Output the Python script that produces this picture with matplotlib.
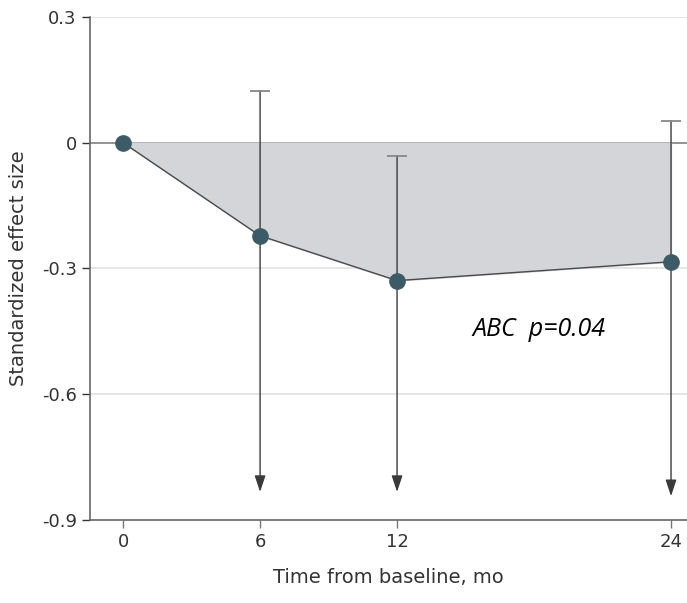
import matplotlib.pyplot as plt

# Daten
months = [0, 6, 12, 24]
effect = [0.0, -0.222, -0.329, -0.284]
upper = [None, 0.124, -0.031, 0.052]
lower = [None, -0.833, -0.833, -0.843]

fig = plt.figure(figsize=(6.87, 6.03), dpi=100)
ax = fig.add_axes([0.131, 0.1376, 0.869, 0.8344])

ax.set_xlim(-1.45, 24.7)
ax.set_ylim(-0.9, 0.3)

# Gitter
for y in [0.3, -0.3, -0.6]:
    ax.axhline(y, color='#e3e3e3', lw=1.3, zorder=0)
ax.axhline(0, color='#8a8a8a', lw=1.3, zorder=1)

# Fläche zwischen Kurve und 0
ax.fill_between(months, effect, 0, color='#d4d5d9', zorder=1)
ax.plot(months, effect, color='#4a4a4a', lw=1, zorder=3)

# Fehlerbalken mit Pfeil nach unten
for x, lo, hi in zip(months, lower, upper):
    if hi is None:
        continue
    ax.annotate('', xy=(x, lo), xytext=(x, hi),
                arrowprops=dict(arrowstyle='-|>,head_width=0.3,head_length=0.9',
                                color='#3a3a3a', lw=1,
                                mutation_scale=11, shrinkA=0, shrinkB=0),
                zorder=2)
    ax.plot([x], [hi], marker='_', ms=15, mew=1.3, color='#888888', zorder=2)

ax.plot(months, effect, 'o', ms=11, color='#3d5b66', zorder=4)

ax.text(15.3, -0.446, 'ABC  p=0.04', style='italic', fontsize=18,
        ha='left', va='center', family='Open Sans')

ax.set_xticks(months)
ax.set_yticks([0.3, 0, -0.3, -0.6, -0.9])
ax.set_yticklabels(['0.3', '0', '-0.3', '-0.6', '-0.9'])
ax.tick_params(labelsize=13, colors='#333333', length=6, width=1)
ax.tick_params(axis='x', colors='#777777', labelcolor='#333333')
for s in ['top', 'right']:
    ax.spines[s].set_visible(False)
for s in ['left', 'bottom']:
    ax.spines[s].set_color('#666666')
    ax.spines[s].set_linewidth(1.2)

ax.set_xlabel('Time from baseline, mo', fontsize=14, color='#333333', labelpad=12)
ax.set_ylabel('Standardized effect size', fontsize=14, color='#333333', labelpad=10)

plt.savefig('out.png')
